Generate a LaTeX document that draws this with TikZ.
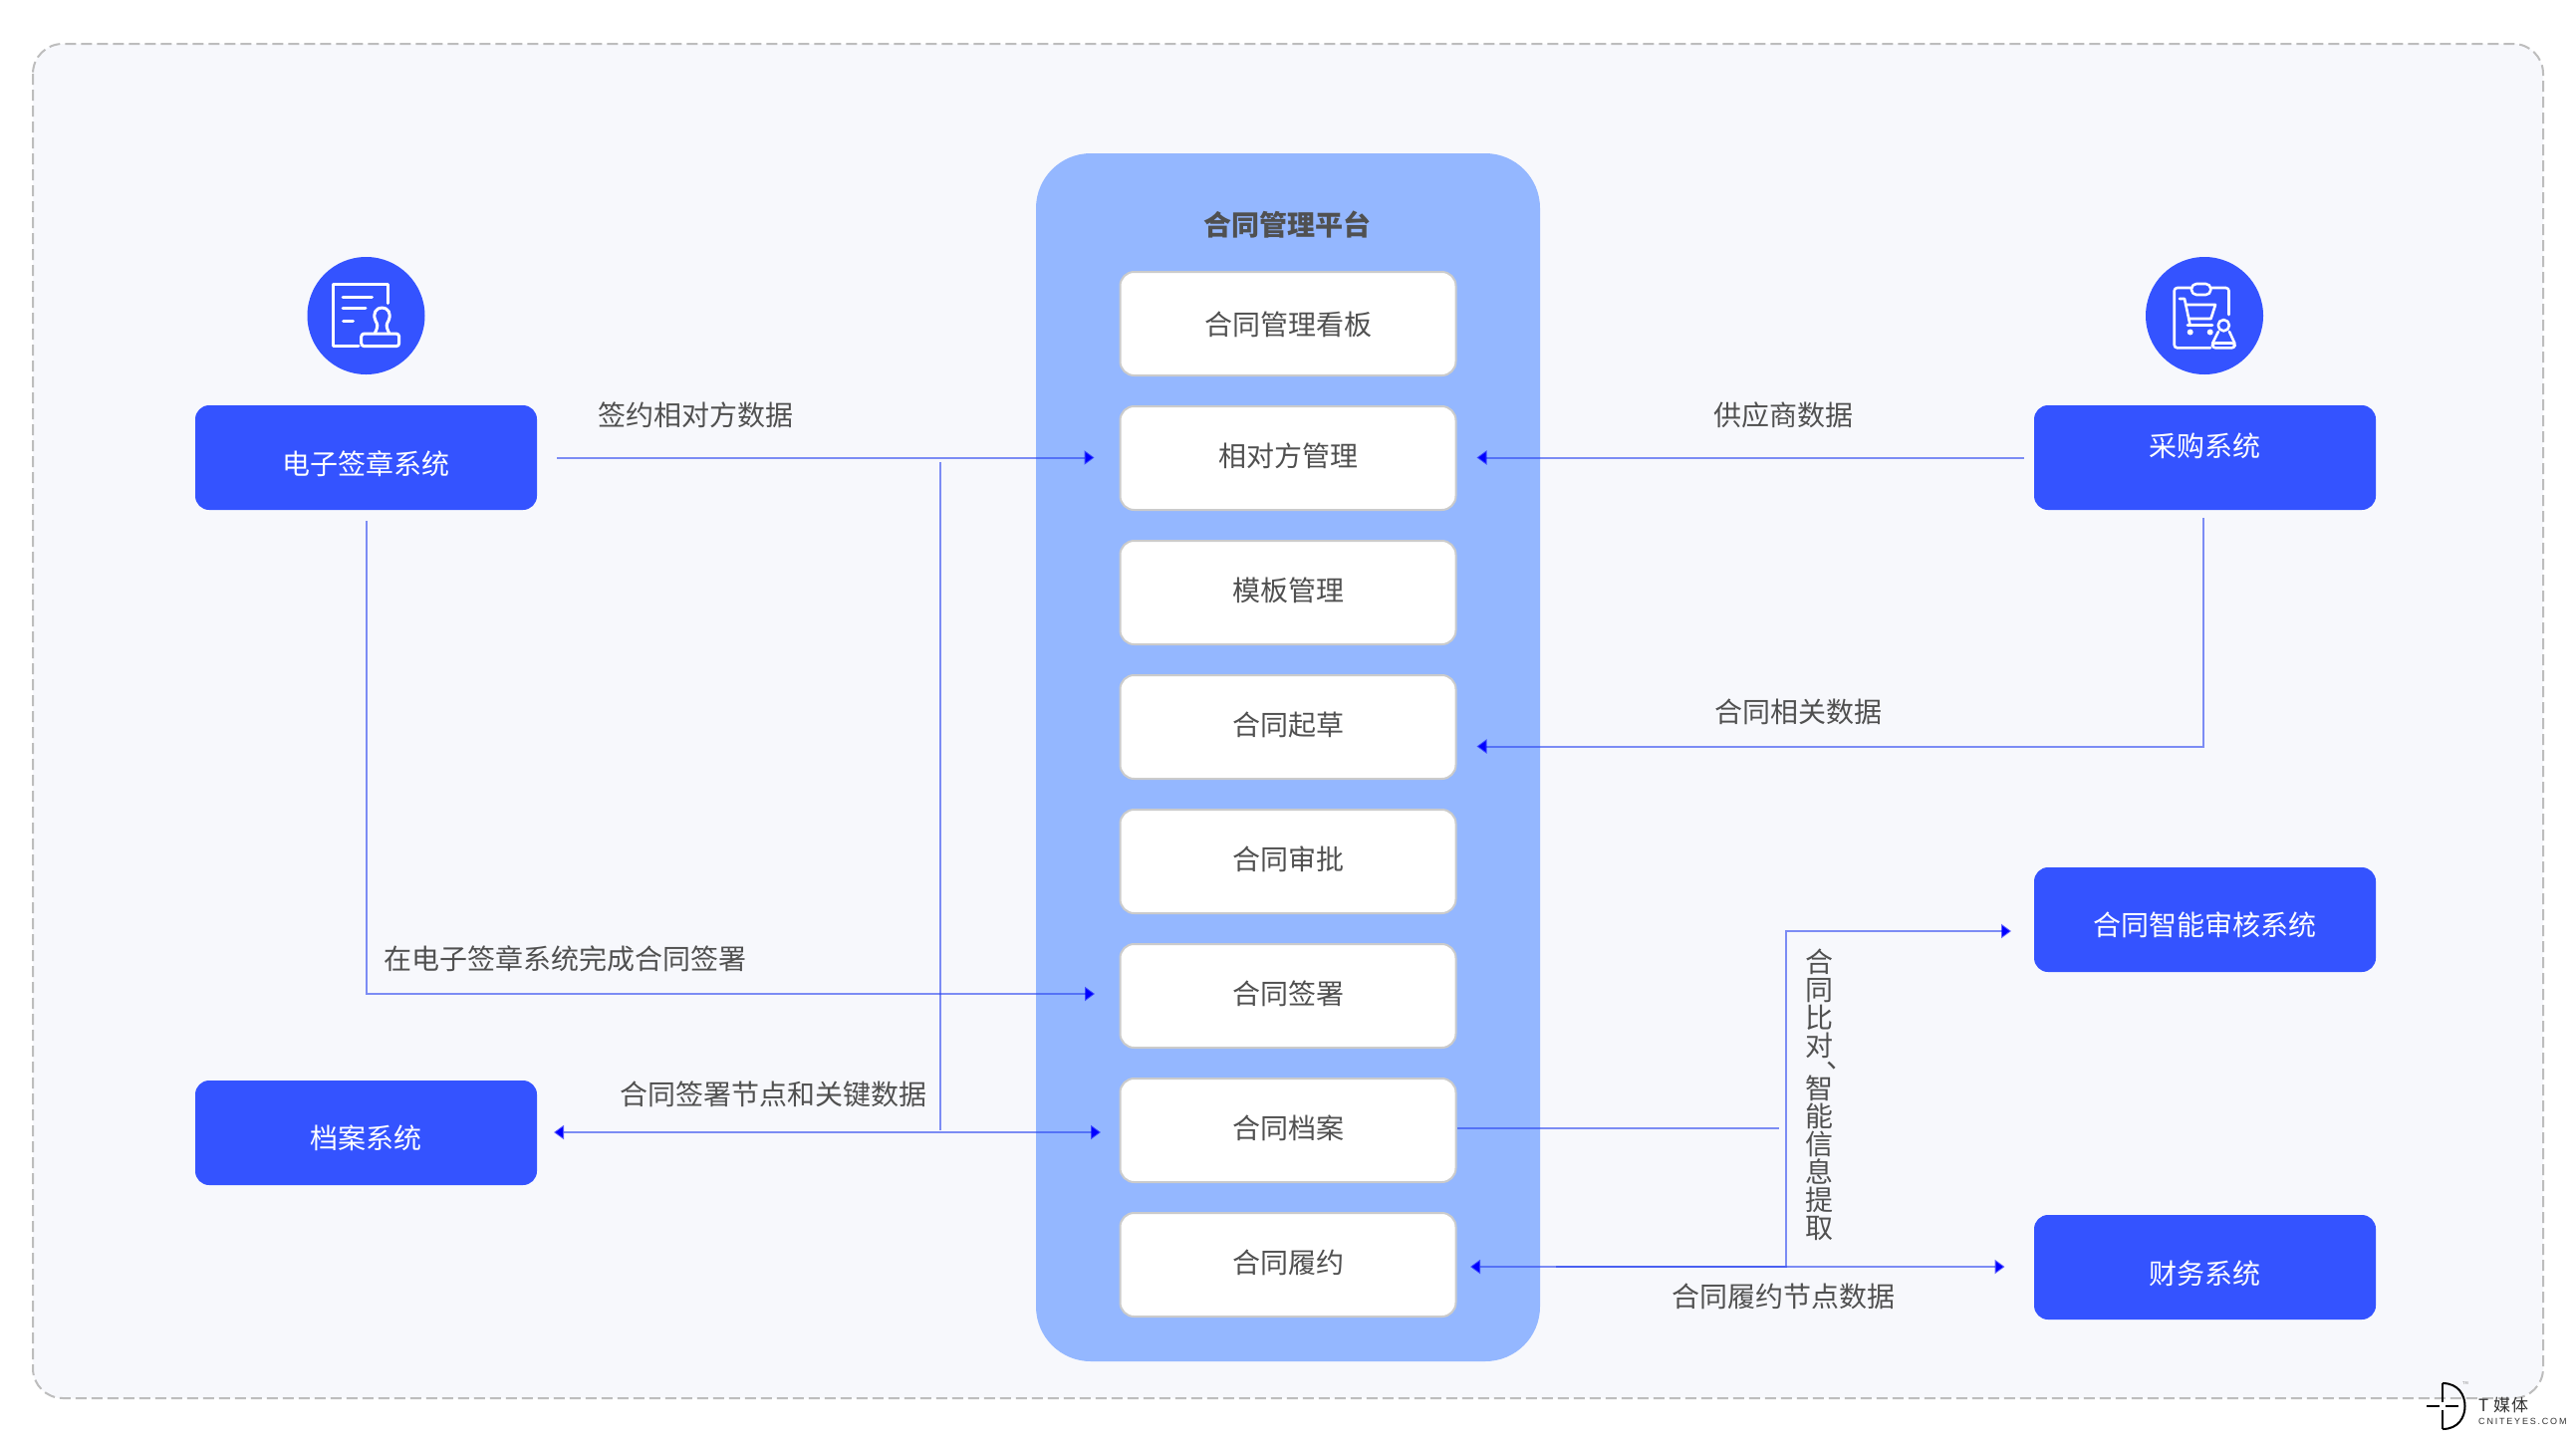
\documentclass[tikz,border=0pt]{standalone}
\usepackage{fontspec}
\setmainfont{Noto Sans CJK SC}
\newfontfamily\logofont[LetterSpace=20]{Liberation Sans}
\usetikzlibrary{arrows.meta,calc}
\definecolor{bgc}{HTML}{F7F8FC}
\definecolor{bordc}{HTML}{BDBDBD}
\definecolor{platc}{HTML}{94B7FF}
\definecolor{sysc}{HTML}{3453FF}
\definecolor{edgec}{HTML}{CBCBCB}
\definecolor{txtc}{HTML}{505050}
\definecolor{linec}{HTML}{2A44F0}
\newcommand\lbl[2]{\raisebox{\dimexpr#1-0.40em\relax}[0pt][0pt]{#2}}
\tikzset{
  x=1pt,y=-1pt,
  fnt/.style={font=\fontsize{28pt}{28pt}\selectfont},
  page/.style={draw=bordc,line width=2pt,dash pattern=on 11pt off 5pt,fill=bgc,rounded corners=30pt},
  platform/.style={fill=platc,rounded corners=55pt,minimum width=506pt,minimum height=1213pt,inner sep=0pt},
  modbox/.style={fill=white,draw=edgec,line width=2pt,rounded corners=14pt,minimum width=337pt,minimum height=104pt,inner sep=0pt,fnt,text=txtc},
  sysbox/.style={fill=sysc,rounded corners=14pt,minimum width=343pt,minimum height=105pt,inner sep=0pt,fnt,text=white},
  badge/.style={circle,fill=sysc,minimum size=118pt,inner sep=0pt},
  note/.style={inner sep=0pt,fnt,text=txtc},
  conn/.style={draw=linec,line width=2pt,draw opacity=.6},
  tipe/.style={-{Triangle[length=10pt,width=14pt,color=blue]}},
  tipbe/.style={{Triangle[length=10pt,width=14pt,color=blue]}-{Triangle[length=10pt,width=14pt,color=blue]}},
  icon/.style={draw=white,line width=3pt,line cap=round,line join=round},
}
\begin{document}
\begin{tikzpicture}
\useasboundingbox (0,0) rectangle (2586,1446);
\fill[white] (0,0) rectangle (2586,1446);
\draw[page] (33,44) rectangle (2553,1404);

% platform
\node[platform] (plat) at (1293,760.5) {};
\node[note,font=\fontsize{28pt}{28pt}\selectfont\bfseries] (title) at (1292.5,225) {\lbl{0pt}{合同管理平台}};

% module boxes
\node[modbox] (m1) at (1293,325) {\lbl{0pt}{合同管理看板}};
\node[modbox] (m2) at (1293,460) {\lbl{2.5pt}{相对方管理}};
\node[modbox] (m3) at (1293,595) {\lbl{2.5pt}{模板管理}};
\node[modbox] (m4) at (1293,730) {\lbl{3pt}{合同起草}};
\node[modbox] (m5) at (1293,865) {\lbl{3pt}{合同审批}};
\node[modbox] (m6) at (1293,1000) {\lbl{2.5pt}{合同签署}};
\node[modbox] (m7) at (1293,1135) {\lbl{2.5pt}{合同档案}};
\node[modbox] (m8) at (1293,1270) {\lbl{2.5pt}{合同履约}};

% system boxes
\node[sysbox] (esign) at (367.5,459.5) {\lbl{-5.5pt}{电子签章系统}};
\node[sysbox] (arch)  at (367.5,1137.5) {\lbl{-5pt}{档案系统}};
\node[sysbox] (buy)   at (2213.5,459.5) {\lbl{12.5pt}{采购系统}};
\node[sysbox] (smart) at (2213.5,923.5) {\lbl{-5pt}{合同智能审核系统}};
\node[sysbox] (fin)   at (2213.5,1272.5) {\lbl{-6pt}{财务系统}};

% badges
\node[badge] (bl) at (367.5,317) {};
\node[badge] (br) at (2213,317) {};

% left icon
\begin{scope}[icon]
\draw (389,304.5) -- (389,285.7) -- (334.5,285.7) -- (334.5,347.7) -- (360,347.7);
\draw (344,298.7) -- (373.5,298.7);
\draw (344,309) -- (367,309);
\draw (344.5,322) -- (354.5,322);
\draw[rounded corners=3pt] (362.7,335) rectangle (400.7,347.7);
\draw (376.5,334) .. controls (380,327) and (379,326) .. (377,322)
      .. controls (373.5,314) and (378,309) .. (383.5,309)
      .. controls (389,309) and (393.5,314) .. (390,322)
      .. controls (388,326) and (387,327) .. (390.5,334);
\end{scope}

% right icon
\begin{scope}[icon,line width=2.6pt]
\draw[rounded corners=3pt] (2199.5,289) -- (2182.7,289) -- (2182.7,349.3) -- (2219,349.3);
\draw[rounded corners=3pt] (2220,289) -- (2237.5,289) -- (2237.5,316);
\draw[rounded corners=5pt] (2200,285) rectangle (2219.3,296);
\draw (2188,300) -- (2193,300) -- (2198.5,326);
\draw (2194,306) -- (2224,306) -- (2219.5,320) -- (2197.5,320);
\draw (2196,326.5) -- (2221,326.5);
\fill[white,draw=none] (2198.7,333.5) circle (3pt) (2218.7,333.5) circle (3pt);
\draw (2232.3,326.7) circle (5.6pt);
\draw (2227,333) -- (2221,345);
\draw (2238,333) -- (2243.5,345);
\draw[rounded corners=3pt] (2221,344.5) rectangle (2243.5,349.3);
\end{scope}

% connector ends
\coordinate (s1) at (943.5,464);
\coordinate (s2) at (943.5,1135);
\coordinate (e1) at (368,523);
\coordinate (e2) at (1099,998);
\coordinate (b1) at (2212,520);
\coordinate (b2) at (1482.5,749.5);
\coordinate (a1) at (556,1137);
\coordinate (a2) at (1105,1137);
\coordinate (k1) at (1463,1133);
\coordinate (k2) at (1786,1133);
\coordinate (v0) at (1562,1272);
\coordinate (v1) at (1793,1272);
\coordinate (v2) at (2019,935);
\coordinate (f1) at (1476,1272);
\coordinate (f2) at (2012.5,1272);

% connectors
\draw[conn,tipe,shorten <=20pt,shorten >=25pt] (esign.east) -- (m2.west |- esign.east);
\draw[conn,tipe,shorten <=10pt,shorten >=20pt] (buy.west) -- (m2.east |- buy.west);
\draw[conn] (s1) -- (s2);
\draw[conn,tipe] (e1) |- (e2);
\draw[conn,tipe] (b1) |- (b2);
\draw[conn,tipbe] (a1) -- (a2);
\draw[conn] (k1) -- (k2);
\draw[conn,tipe] (v0) -- (v1) |- (v2);
\draw[conn,tipbe] (f1) -- (f2);

% connector labels
\node[note] (t1) at (698,416) {\lbl{0pt}{签约相对方数据}};
\node[note] (t2) at (1790,416) {\lbl{0pt}{供应商数据}};
\node[note] (t3) at (1805,714) {\lbl{0pt}{合同相关数据}};
\node[note] (t4) at (567,962) {\lbl{0pt}{在电子签章系统完成合同签署}};
\node[note] (t5) at (776,1098) {\lbl{0pt}{合同签署节点和关键数据}};
\node[note] (t6) at (1790,1301) {\lbl{0pt}{合同履约节点数据}};
\node[note,align=center,anchor=north] (t7) at (1826,952.5) {合\\同\\比\\对\\[-15.6pt]\makebox[28pt][l]{\hspace{21pt}、}\\[3pt]智\\能\\信\\息\\提\\取};

% logo
\draw[black,line width=2pt] (2452,1389) -- (2452,1408) (2452,1416) -- (2452,1435);
\draw[black,line width=2pt] (2452,1389) .. controls (2468,1389) and (2474.5,1401) .. (2474.5,1412) .. controls (2474.5,1423) and (2468,1435) .. (2452,1435);
\draw[black,line width=2pt] (2436,1412) -- (2449,1412) (2455,1412) -- (2468,1412);
\node[inner sep=0pt,text=gray,font=\fontsize{4pt}{4pt}\selectfont] (tm) at (2475,1389.5) {TM};
\node[inner sep=0pt,text=black!80,font=\fontsize{17pt}{17pt}\selectfont,anchor=west] (lg1) at (2488,1411) {\lbl{0pt}{\makebox[15pt][l]{T}媒\kern1pt 体}};
\node[inner sep=0pt,text=black!80,font=\fontsize{9pt}{9pt}\logofont,anchor=west] (lg2) at (2488,1427) {CNITEYES.COM};
\end{tikzpicture}
\end{document}
